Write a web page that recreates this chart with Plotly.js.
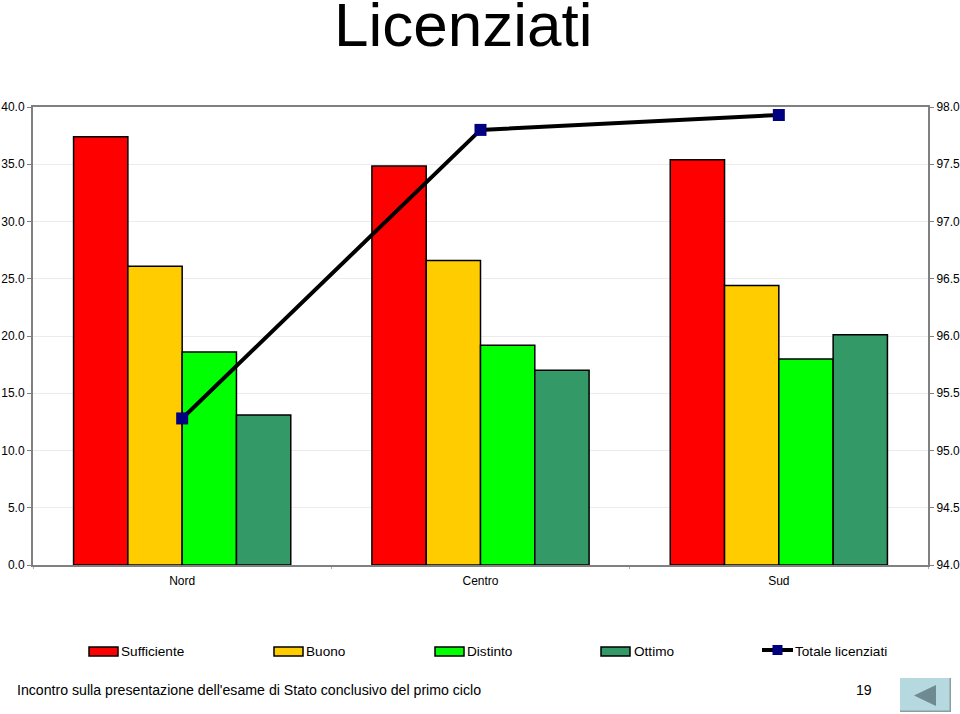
<!DOCTYPE html>
<html>
<head>
<meta charset="utf-8">
<script src="https://cdn.plot.ly/plotly-3.0.1.min.js"></script>
<style>html,body{margin:0;padding:0;background:#fff}#chart{width:960px;height:714px}</style>
</head>
<body>
<div id="chart"></div>
<script>
var categories = ['Nord', 'Centro', 'Sud'];
var sufficiente = [37.4, 34.85, 35.4];
var buono = [26.1, 26.6, 24.4];
var distinto = [18.6, 19.2, 18.0];
var ottimo = [13.1, 17.0, 20.1];
var totale = [95.28, 97.8, 97.93];
var leftTicks = [0, 5, 10, 15, 20, 25, 30, 35, 40];
var rightTicks = [94, 94.5, 95, 95.5, 96, 96.5, 97, 97.5, 98];
var title = 'Licenziati';
var footer = "Incontro sulla presentazione dell'esame di Stato conclusivo del primo ciclo";
var pageNumber = '19';

var FONT = '"Liberation Sans", Arial, sans-serif';
var W = 960, H = 714, L = 33, R = 928, T = 107, B = 565;
function px(x) { return (x - L) / (R - L); }
function py(y) { return (B - y) / (B - T); }

function bar(name, y, color) {
  return { type: 'bar', name: name, x: categories, y: y, yaxis: 'y',
           marker: { color: color, line: { color: '#000', width: 1.5 } }, showlegend: false };
}
var data = [
  bar('Sufficiente', sufficiente, '#ff0000'),
  bar('Buono', buono, '#ffcc00'),
  bar('Distinto', distinto, '#00ff00'),
  bar('Ottimo', ottimo, '#339966'),
  { type: 'scatter', mode: 'lines+markers', name: 'Totale licenziati', x: categories, y: totale, yaxis: 'y2',
    line: { color: '#000', width: 4 }, marker: { symbol: 'square', size: 12, color: '#000080' }, showlegend: false }
];

var shapes = [], annotations = [];
function text(t, x, y, size, anchor) {
  annotations.push({ text: t, xref: 'paper', yref: 'paper', x: px(x), y: py(y), xanchor: anchor || 'left', yanchor: 'middle',
                     showarrow: false, font: { family: FONT, size: size, color: '#000' }, borderpad: 0, borderwidth: 0 });
}
var swatches = [
  ['Sufficiente', '#ff0000', 89, 121], ['Buono', '#ffcc00', 274, 306],
  ['Distinto', '#00ff00', 435, 467], ['Ottimo', '#339966', 601, 634]
];
swatches.forEach(function (s) {
  shapes.push({ type: 'rect', xref: 'paper', yref: 'paper', x0: px(s[2]), x1: px(s[2] + 29), y0: py(656), y1: py(647),
                fillcolor: s[1], line: { color: '#000', width: 1.5 } });
  text(s[0], s[3], 651.5, 13.6);
});
shapes.push({ type: 'line', xref: 'paper', yref: 'paper', x0: px(762), x1: px(793), y0: py(650), y1: py(650), line: { color: '#000', width: 4 } });
shapes.push({ type: 'rect', xref: 'paper', yref: 'paper', x0: px(772.5), x1: px(782.5), y0: py(655), y1: py(645), fillcolor: '#000080', line: { width: 0 } });
text('Totale licenziati', 795, 651.5, 13.6);
text(title, 463, 25, 62, 'center');
text(footer, 17, 690, 14.15);
text(pageNumber, 864, 690, 14.15, 'center');

// navigation button
shapes.push({ type: 'rect', xref: 'paper', yref: 'paper', x0: px(900), x1: px(951), y0: py(712), y1: py(678), fillcolor: '#8a9ea2', line: { width: 0 } });
shapes.push({ type: 'rect', xref: 'paper', yref: 'paper', x0: px(900), x1: px(949.5), y0: py(710.5), y1: py(678), fillcolor: '#b5d9de', line: { width: 0 } });
shapes.push({ type: 'path', xref: 'paper', yref: 'paper',
  path: 'M ' + px(914) + ' ' + py(695.5) + ' L ' + px(936) + ' ' + py(685) + ' L ' + px(936) + ' ' + py(706) + ' Z',
  fillcolor: '#6f8a90', line: { width: 0 } });

var axisFont = { family: FONT, size: 12, color: '#000' };
var layout = {
  width: W, height: H, paper_bgcolor: '#fff', plot_bgcolor: '#fff',
  margin: { l: L, r: W - R, t: T, b: H - B, pad: 0 },
  barmode: 'group', bargap: 0.272, bargroupgap: 0, showlegend: false, hovermode: false,
  xaxis: { type: 'category', tickson: 'boundaries', ticks: 'outside', ticklen: 2, tickcolor: '#aaa', tickwidth: 1, ticklabelstandoff: 4,
           showline: true, linecolor: '#808080', linewidth: 2, mirror: true, showgrid: false, zeroline: false, tickfont: axisFont, automargin: false },
  yaxis: { range: [0, 40], tickvals: leftTicks, ticktext: leftTicks.map(function (v) { return v.toFixed(1); }),
           ticks: 'outside', ticklen: 4, tickcolor: '#808080', tickwidth: 1, showline: true, linecolor: '#808080', linewidth: 2,
           gridcolor: '#ececec', gridwidth: 1, zeroline: false, tickfont: axisFont, automargin: false },
  yaxis2: { range: [94, 98], overlaying: 'y', side: 'right', tickvals: rightTicks, ticktext: rightTicks.map(function (v) { return v.toFixed(1); }),
            ticks: 'outside', ticklen: 4, tickcolor: '#808080', tickwidth: 1, showline: true, linecolor: '#808080', linewidth: 2,
            showgrid: false, zeroline: false, tickfont: axisFont, automargin: false },
  shapes: shapes, annotations: annotations
};
Plotly.newPlot('chart', data, layout, { displayModeBar: false, staticPlot: true });
</script>
</body>
</html>
